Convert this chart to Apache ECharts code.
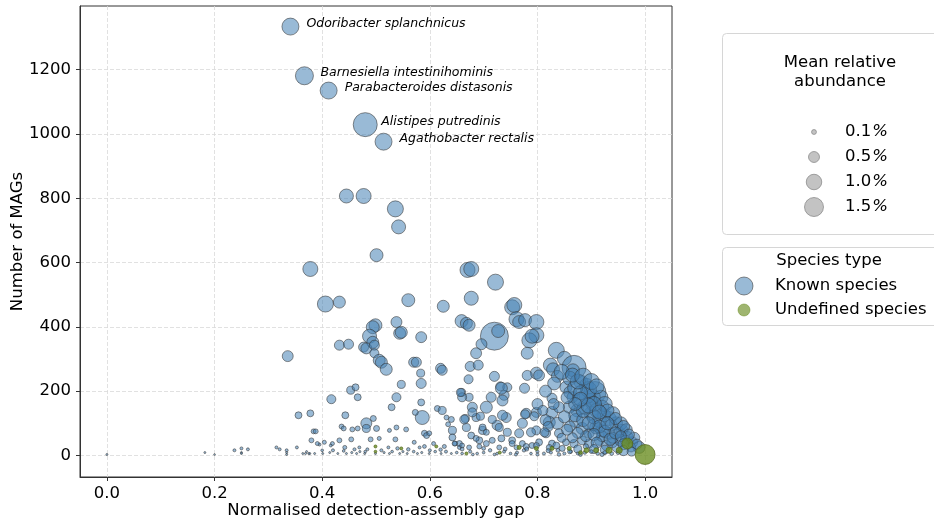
<!DOCTYPE html>
<html><head><meta charset="utf-8">
<script src="https://cdn.jsdelivr.net/npm/echarts@6/dist/echarts.min.js"></script>
<style>html,body{margin:0;padding:0;background:#fff}#c{width:934px;height:522px}</style>
</head><body><div id="c"></div>
<script>
const xTicks = [0, 0.2, 0.4, 0.6, 0.8, 1.0];
const yTicks = [0, 200, 400, 600, 800, 1000, 1200];
const legendAbundance = [0.1, 0.5, 1.0, 1.5];
const speciesTypes = ['Known species', 'Undefined species'];

// [name, gap, MAGs, mean relative abundance %]
const labeledSpecies = [
  ['Odoribacter splanchnicus', 0.341, 1334, 1.2],
  ['Barnesiella intestinihominis', 0.367, 1181, 1.35],
  ['Parabacteroides distasonis', 0.412, 1135, 1.2],
  ['Alistipes putredinis', 0.480, 1029, 2.4],
  ['Agathobacter rectalis', 0.514, 976, 1.2]
];

// [gap, MAGs, abundance %]
const knownSpecies = [
[0.445,807,0.82],[0.477,807,0.94],[0.536,767,1.07],[0.542,711,0.82],[0.501,623,0.7],[0.378,580,0.94],[0.406,471,1.07],[0.432,477,0.6],[0.336,309,0.5],[0.560,483,0.7],[0.625,464,0.6],[0.670,577,0.94],[0.677,580,0.94],[0.677,489,0.82],[0.722,539,1.07],[0.659,418,0.7],[0.668,411,0.6],[0.673,405,0.6],[0.720,371,3.26],[0.727,387,0.7],[0.696,346,0.5],[0.686,318,0.5],[0.675,277,0.42],[0.690,281,0.42],[0.672,237,0.34],[0.720,246,0.42],[0.731,215,0.34],[0.744,212,0.34],[0.659,196,0.27],[0.673,181,0.27],[0.753,461,0.94],[0.757,468,0.94],[0.761,424,0.94],[0.766,415,0.7],[0.777,421,0.7],[0.798,415,0.94],[0.798,374,0.94],[0.785,358,0.94],[0.790,371,0.82],[0.781,318,0.6],[0.835,327,1.07],[0.850,302,0.82],[0.824,281,0.82],[0.829,268,0.7],[0.868,274,2.4],[0.866,265,0.7],[0.837,246,0.6],[0.831,224,0.7],[0.798,256,0.6],[0.781,249,0.42],[0.803,249,0.5],[0.776,209,0.42],[0.827,178,0.42],[0.853,212,0.6],[0.861,196,0.7],[0.881,228,0.82],[0.891,218,0.82],[0.907,196,2.0],[0.902,181,1.07],[0.918,181,0.82],[0.898,171,0.82],[0.920,150,0.82],[0.933,115,0.82],[0.946,100,0.7],[0.957,78,0.6],[0.967,56,0.6],[0.976,41,0.5],[0.989,25,0.6],[0.874,140,0.7],[0.872,109,0.82],[0.883,84,0.6],[0.896,69,0.42],[0.865,181,0.5],[0.859,150,0.6],[0.827,134,0.6],[0.822,103,0.6],[0.837,100,0.6],[0.798,134,0.42],[0.779,131,0.42],[0.772,100,0.42],[0.766,69,0.34],[0.798,78,0.34],[0.816,69,0.34],[0.840,69,0.34],[0.742,118,0.42],[0.725,94,0.42],[0.705,150,0.6],[0.714,181,0.42],[0.698,78,0.27],[0.738,187,0.42],[0.733,209,0.6],[0.735,171,0.5],[0.660,181,0.34],[0.679,150,0.42],[0.686,118,0.27],[0.668,87,0.27],[0.677,62,0.2],[0.655,37,0.15],[0.692,47,0.2],[0.705,37,0.15],[0.733,53,0.2],[0.753,47,0.2],[0.772,37,0.15],[0.790,31,0.15],[0.803,41,0.2],[0.827,37,0.2],[0.853,41,0.2],[0.868,37,0.27],[0.883,47,0.34],[0.896,37,0.34],[0.915,47,0.42],[0.928,31,0.42],[0.939,41,0.5],[0.948,25,0.42],[0.955,47,0.6],[0.933,69,0.6],[0.920,78,0.7],[0.909,87,0.7],[0.915,109,0.82],[0.900,131,0.82],[0.887,150,0.82],[0.878,171,0.94],[0.924,125,0.7],[0.937,94,0.6],[0.952,72,0.5],[0.963,47,0.42],[0.974,25,0.34],[0.911,140,0.94],[0.892,187,1.07],
[0.895,205,1.07],[0.925,160,0.94],[0.940,130,0.82],[0.955,100,0.7],[0.965,80,0.6],[0.980,55,0.5],[0.985,35,0.42],[0.860,240,0.82],[0.845,260,0.94],[0.870,210,0.94],[0.880,195,0.82],[0.905,160,0.94],[0.930,140,0.7],[0.945,115,0.6],[0.960,90,0.6],[0.970,65,0.5],[0.870,125,0.7],[0.885,110,0.7],[0.905,95,0.6],[0.920,60,0.5],[0.940,55,0.5],[0.860,90,0.5],[0.850,120,0.6],[0.815,110,0.5],[0.800,160,0.5],[0.815,200,0.6],
[0.905,120,0.82],[0.915,90,0.7],[0.925,75,0.6],[0.935,50,0.6],[0.945,70,0.6],[0.955,60,0.5],[0.960,35,0.5],[0.895,100,0.7],[0.890,60,0.5],[0.905,65,0.6],[0.910,40,0.5],[0.875,70,0.5],[0.865,55,0.42],[0.855,80,0.5],[0.885,140,0.82],[0.895,155,0.94],[0.915,135,0.82],[0.930,100,0.7],[0.875,230,0.94],[0.865,250,0.82],[0.885,245,1.2],[0.900,230,1.07],[0.910,215,0.94],[0.880,175,0.82],[0.870,160,0.7],[0.855,180,0.6],[0.840,150,0.5],[0.830,160,0.5],[0.810,140,0.42],[0.820,90,0.42],[0.845,55,0.34],[0.875,20,0.27],[0.905,20,0.34],[0.925,18,0.34],[0.960,15,0.42],[0.975,12,0.34],
[0.499,405,0.7],[0.494,399,0.7],[0.538,415,0.5],[0.544,380,0.6],[0.547,383,0.6],[0.584,368,0.5],[0.488,371,0.82],[0.494,352,0.6],[0.477,337,0.42],[0.482,333,0.5],[0.497,343,0.42],[0.432,343,0.42],[0.449,346,0.42],[0.497,318,0.34],[0.506,296,0.6],[0.510,290,0.6],[0.519,268,0.6],[0.570,290,0.42],[0.575,290,0.42],[0.583,256,0.27],[0.547,221,0.27],[0.584,224,0.42],[0.620,271,0.42],[0.623,265,0.42],[0.453,203,0.27],[0.462,212,0.2],[0.466,181,0.2],[0.417,175,0.34],[0.538,181,0.34],[0.529,150,0.2],[0.584,165,0.2],[0.586,118,0.82],[0.573,134,0.15],[0.614,146,0.15],[0.623,140,0.27],[0.631,118,0.1],[0.640,112,0.15],[0.634,97,0.1],[0.642,78,0.27],[0.657,196,0.27],[0.666,115,0.27],[0.356,125,0.2],[0.378,131,0.2],[0.443,125,0.2],[0.482,100,0.5],[0.482,84,0.27],[0.495,115,0.15],[0.501,84,0.15],[0.436,90,0.1],[0.440,84,0.1],[0.456,81,0.1],[0.466,84,0.1],[0.538,87,0.1],[0.556,81,0.1],[0.525,78,0.067],[0.590,69,0.15],[0.594,62,0.15],[0.599,69,0.1],[0.384,75,0.1],[0.388,75,0.1],[0.432,47,0.1],[0.454,50,0.1],[0.490,50,0.1],[0.506,53,0.067],[0.536,50,0.1],[0.380,47,0.1],[0.404,41,0.067],[0.419,37,0.067],[0.571,41,0.067],[0.607,37,0.067],[0.627,28,0.067],[0.647,37,0.1],[0.655,25,0.067],[0.353,25,0.037],[0.395,34,0.037],[0.416,31,0.037],[0.442,25,0.067],[0.469,25,0.037],[0.484,19,0.037],[0.523,25,0.037],[0.581,25,0.037],[0.391,37,0.067],
[0.679,134,0.34],[0.694,122,0.27],[0.664,112,0.34],[0.716,112,0.27],[0.735,125,0.42],[0.777,128,0.34],[0.794,122,0.34],[0.698,87,0.2],[0.729,87,0.27],[0.744,72,0.27],[0.705,72,0.15],[0.788,72,0.34],[0.813,72,0.34],[0.686,53,0.15],[0.716,47,0.15],[0.753,37,0.15],[0.642,56,0.2],[0.646,37,0.1],[0.660,31,0.1],[0.673,25,0.1],[0.692,28,0.1],[0.729,25,0.1],[0.761,25,0.1],[0.779,28,0.15],[0.798,31,0.15],[0.822,25,0.15],[0.835,31,0.2],[0.846,22,0.15],
[0.0,3,0.017],[0.182,9,0.017],[0.200,3,0.012],[0.237,16,0.037],[0.250,22,0.037],[0.250,9,0.017],[0.250,6,0.017],[0.262,19,0.037],[0.315,25,0.037],[0.321,19,0.037],[0.334,16,0.037],[0.334,9,0.017],[0.334,3,0.017],[0.364,6,0.017],[0.371,12,0.017],[0.375,6,0.017],[0.369,6,0.017],[0.377,6,0.017],[0.386,6,0.017],[0.401,6,0.017],[0.414,9,0.017],[0.429,6,0.017],[0.445,6,0.017],[0.464,6,0.017],[0.479,6,0.017],[0.499,6,0.017],[0.525,6,0.017],[0.544,6,0.017],[0.558,6,0.017],[0.577,6,0.017],[0.599,6,0.017],[0.621,6,0.017],[0.640,6,0.017],
[0.660,6,0.03],[0.675,12,0.04],[0.688,6,0.03],[0.700,9,0.03],[0.712,16,0.05],[0.725,6,0.03],[0.738,12,0.04],[0.750,6,0.03],[0.762,9,0.04],[0.775,16,0.05],[0.788,6,0.03],[0.800,12,0.04],[0.812,6,0.04],[0.825,9,0.04],[0.838,16,0.06],[0.850,6,0.04],[0.862,12,0.05],[0.875,6,0.04],[0.888,9,0.05],[0.900,12,0.06],[0.912,6,0.05],[0.925,9,0.06],[0.938,6,0.06],[0.950,9,0.07],[0.420,16,0.04],[0.460,19,0.04],[0.510,16,0.04],[0.560,19,0.05],[0.600,16,0.04],[0.630,12,0.04],[0.570,12,0.03],[0.530,12,0.03],
[0.700,22,0.06],[0.740,20,0.06],[0.780,20,0.07],[0.820,15,0.07],[0.860,12,0.08],[0.890,28,0.12],[0.620,18,0.05],[0.660,20,0.06],[0.480,12,0.03],[0.440,14,0.03],[0.400,16,0.03],[0.540,22,0.05],[0.590,28,0.06],
[0.455,9,0.02],[0.470,12,0.02],[0.515,9,0.02],[0.550,12,0.02],[0.585,9,0.02],[0.610,12,0.03],[0.650,9,0.03],[0.680,3,0.03],[0.720,3,0.03],[0.760,3,0.04],[0.800,3,0.04],[0.840,3,0.05],[0.880,3,0.06],[0.920,3,0.07]
];

const undefinedSpecies = [
[0.499,28,0.037],[0.499,12,0.03],[0.547,22,0.037],[0.612,28,0.037],[0.668,6,0.037],[0.730,9,0.04],[0.766,25,0.067],[0.798,22,0.067],[0.827,22,0.067],[0.859,22,0.067],[0.880,9,0.06],[0.891,16,0.1],[0.909,16,0.1],[0.933,16,0.15],[0.952,16,0.15],[0.967,37,0.5],[1.0,3,1.66]
];

const FONT = '"DejaVu Sans", sans-serif';
const sizeOf = a => 15.5 * Math.sqrt(a);
const BLUE = 'rgba(70,130,180,0.55)';
const GREEN = 'rgba(107,142,35,0.8)';
const GREEN_LEGEND = 'rgba(107,142,35,0.65)';
const EDGE = 'rgba(50,50,50,0.55)';

const knownData = knownSpecies.map(p => ({ value: p }));
labeledSpecies.forEach(p => {
  knownData.push({
    name: p[0], value: [p[1], p[2], p[3]],
    label: {
      show: true, formatter: '{b}', position: 'inside', align: 'left', verticalAlign: 'middle',
      offset: [16, -3], fontStyle: 'italic', fontSize: 12.5, fontFamily: FONT, color: '#000'
    }
  });
});

const chart = echarts.init(document.getElementById('c'), null, { renderer: 'canvas' });

const legendRowsY = [132, 157, 182, 207];
const graphic = [
  { type: 'rect', z: 10, shape: { x: 722.5, y: 33.5, width: 240, height: 201, r: 4 }, style: { fill: '#fff', stroke: '#d6d6d6', lineWidth: 1 } },
  { type: 'text', z: 11, style: { text: 'Mean relative\nabundance', x: 840, y: 72, align: 'center', verticalAlign: 'middle', fontSize: 16.5, fontFamily: FONT, fill: '#000', lineHeight: 19 } },
  { type: 'rect', z: 10, shape: { x: 722.5, y: 247.5, width: 240, height: 78, r: 4 }, style: { fill: '#fff', stroke: '#d6d6d6', lineWidth: 1 } },
  { type: 'text', z: 11, style: { text: 'Species type', x: 829, y: 261, align: 'center', verticalAlign: 'middle', fontSize: 16.5, fontFamily: FONT, fill: '#000' } },
  { type: 'circle', z: 11, shape: { cx: 744, cy: 286, r: 9 }, style: { fill: BLUE, stroke: EDGE, lineWidth: 1 } },
  { type: 'text', z: 11, style: { text: speciesTypes[0], x: 775, y: 286, align: 'left', verticalAlign: 'middle', fontSize: 16.5, fontFamily: FONT, fill: '#000' } },
  { type: 'circle', z: 11, shape: { cx: 744, cy: 310, r: 6 }, style: { fill: GREEN_LEGEND, stroke: 'rgba(107,142,35,0.5)', lineWidth: 1 } },
  { type: 'text', z: 11, style: { text: speciesTypes[1], x: 775, y: 310, align: 'left', verticalAlign: 'middle', fontSize: 16.5, fontFamily: FONT, fill: '#000' } }
];
legendAbundance.forEach((a, i) => {
  graphic.push({ type: 'circle', z: 11, shape: { cx: 814, cy: legendRowsY[i], r: sizeOf(a) / 2 }, style: { fill: 'rgba(170,170,170,0.7)', stroke: 'rgba(130,130,130,0.7)', lineWidth: 1 } });
  graphic.push({ type: 'text', z: 11, style: { text: a.toFixed(1) + '{p|%}', x: 845, y: legendRowsY[i], align: 'left', verticalAlign: 'middle', fontSize: 16.5, fontFamily: FONT, fill: '#000', rich: { p: { fontStyle: 'italic', fontSize: 16.5, fontFamily: FONT, fill: '#000', padding: [0, 0, 0, 1] } } } });
});

const option = {
  animation: false,
  backgroundColor: '#fff',
  grid: { left: 80, right: 262, top: 6, bottom: 45, containLabel: false, outerBoundsMode: 'none', show: true, borderColor: '#333', borderWidth: 1, backgroundColor: 'transparent' },
  xAxis: {
    type: 'value', min: -0.05, max: 1.05,
    name: 'Normalised detection-assembly gap', nameLocation: 'middle', nameGap: 25, nameMoveOverlap: false,
    nameTextStyle: { fontSize: 16.5, fontFamily: FONT, color: '#000' },
    axisLine: { show: true, onZero: false, lineStyle: { color: '#333', width: 1 } },
    axisTick: { show: true, inside: false, length: 4, customValues: xTicks, lineStyle: { color: '#333' } },
    axisLabel: { customValues: xTicks, formatter: v => v.toFixed(1), fontSize: 16.5, fontFamily: FONT, color: '#000', margin: 8 },
    splitLine: { show: true, lineStyle: { color: '#d9d9d9', type: [4, 2], width: 0.8 } }
  },
  yAxis: {
    type: 'value', min: -67, max: 1398,
    name: 'Number of MAGs', nameLocation: 'middle', nameGap: 54, nameMoveOverlap: false,
    nameTextStyle: { fontSize: 16.5, fontFamily: FONT, color: '#000' },
    axisLine: { show: true, onZero: false, lineStyle: { color: '#333', width: 1 } },
    axisTick: { show: true, inside: false, length: 4, customValues: yTicks, lineStyle: { color: '#333' } },
    axisLabel: { customValues: yTicks, formatter: v => String(v), fontSize: 16.5, fontFamily: FONT, color: '#000', margin: 9 },
    splitLine: { show: true, lineStyle: { color: '#d9d9d9', type: [4, 2], width: 0.8 } }
  },
  series: [
    {
      name: speciesTypes[0], type: 'scatter', data: knownData,
      symbolSize: v => sizeOf(v[2]),
      itemStyle: { color: BLUE, borderColor: EDGE, borderWidth: 1, opacity: 1 },
      emphasis: { disabled: true }, z: 3
    },
    {
      name: speciesTypes[1], type: 'scatter', data: undefinedSpecies,
      symbolSize: v => sizeOf(v[2]),
      itemStyle: { color: GREEN, borderColor: 'rgba(80,100,25,0.7)', borderWidth: 1, opacity: 1 },
      emphasis: { disabled: true }, z: 4
    }
  ],
  graphic: graphic
};
chart.setOption(option);
</script>
</body></html>
